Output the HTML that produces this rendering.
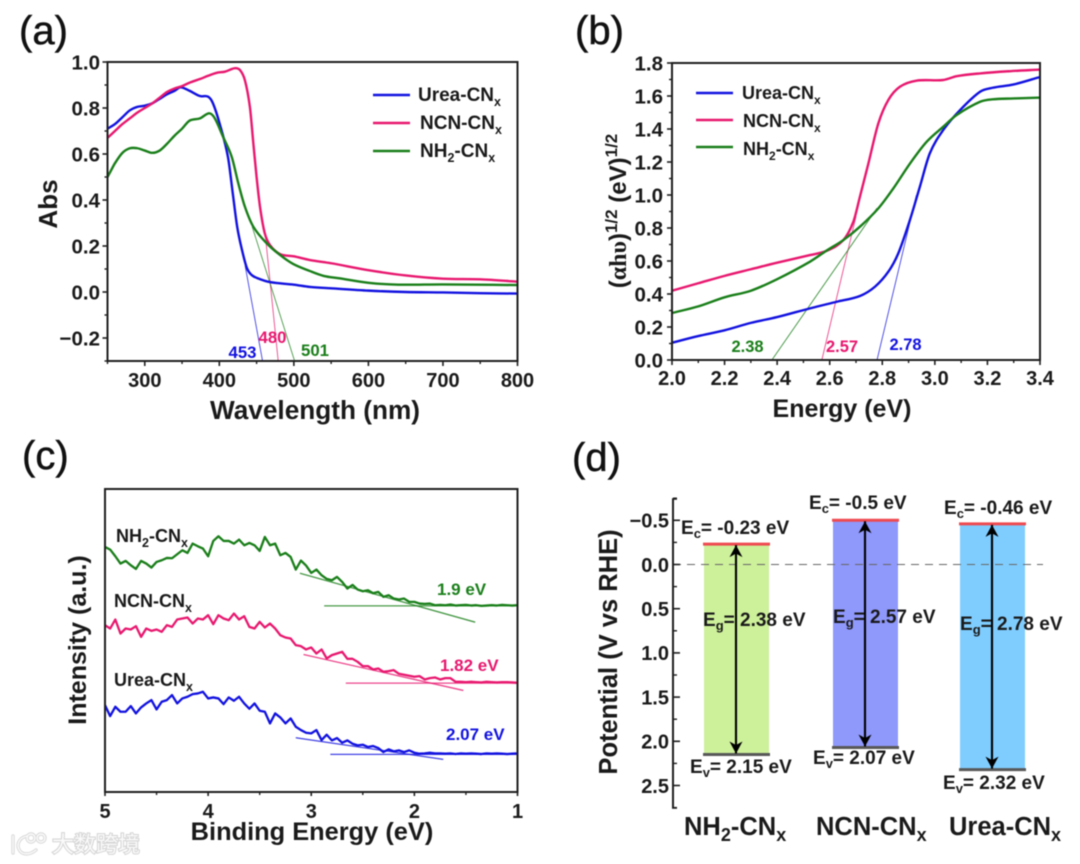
<!DOCTYPE html>
<html lang="en">
<head>
<meta charset="utf-8">
<title>Optical and band structure characterisation of CNx samples</title>
<style>
  html, body { margin: 0; padding: 0; background: #fff; }
  body { width: 1080px; height: 864px; overflow: hidden; }
  svg { display: block; font-family: "Liberation Sans", "Noto Sans CJK SC", sans-serif; filter: blur(0.45px); }
  .b { font-weight: bold; fill: #1a1a1a; }
  .panel { font-size: 40px; fill: #111; stroke: #111; stroke-width: 0.5px; }
</style>
</head>
<body>
<svg id="figure" width="1080" height="864" viewBox="0 0 1080 864" xmlns="http://www.w3.org/2000/svg">
  <rect width="1080" height="864" fill="#fff"/>

  <g id="plot-a"></g>
  <g id="plot-b"></g>
  <g id="plot-c"></g>
  <g id="plot-d"></g>

  <!-- Panel letters -->
  <text class="panel" x="19" y="44">(a)</text>
  <text class="panel" x="575" y="44">(b)</text>
  <text class="panel" x="22" y="469">(c)</text>
  <text class="panel" x="572" y="471">(d)</text>

  <!-- Panel a text -->
  <text class="b" x="315" y="419" font-size="26.2" text-anchor="middle">Wavelength (nm)</text>
  <text class="b" transform="translate(57 204) rotate(-90)" font-size="26" text-anchor="middle">Abs</text>
  <g>
    <line x1="373" x2="410" y1="95" y2="95" stroke="#1212e0" stroke-width="2.4"/>
    <line x1="373" x2="410" y1="123" y2="123" stroke="#e8186f" stroke-width="2.4"/>
    <line x1="373" x2="410" y1="151" y2="151" stroke="#1a7f1a" stroke-width="2.4"/>
    <text class="b" x="418" y="101" font-size="19">Urea-CN<tspan dy="5" font-size="12.5">x</tspan></text>
    <text class="b" x="420" y="129" font-size="19">NCN-CN<tspan dy="5" font-size="12.5">x</tspan></text>
    <text class="b" x="420" y="157" font-size="19">NH<tspan dy="5" font-size="12.5">2</tspan><tspan dy="-5">-CN</tspan><tspan dy="5" font-size="12.5">x</tspan></text>
  </g>
  <text x="242.5" y="358" font-size="16.8" font-weight="bold" text-anchor="middle" fill="#1212e0">453</text>
  <text x="272.5" y="343" font-size="16.8" font-weight="bold" text-anchor="middle" fill="#e8186f">480</text>
  <text x="315" y="356" font-size="16.8" font-weight="bold" text-anchor="middle" fill="#1a7f1a">501</text>

  <!-- Panel b text -->
  <text class="b" x="842" y="417" font-size="25" text-anchor="middle">Energy (eV)</text>
  <text class="b" transform="translate(626 211) rotate(-90)" font-size="24" text-anchor="middle">(<tspan font-family="'Liberation Serif', serif">αhυ</tspan>)<tspan dy="-9" font-size="17">1/2</tspan><tspan dy="9"> (eV)</tspan><tspan dy="-9" font-size="17">1/2</tspan></text>
  <g>
    <line x1="696" x2="733" y1="93" y2="93" stroke="#1212e0" stroke-width="2.4"/>
    <line x1="696" x2="733" y1="120" y2="120" stroke="#e8186f" stroke-width="2.4"/>
    <line x1="696" x2="733" y1="147" y2="147" stroke="#1a7f1a" stroke-width="2.4"/>
    <text class="b" x="742" y="99" font-size="18">Urea-CN<tspan dy="5" font-size="12">x</tspan></text>
    <text class="b" x="743" y="127" font-size="18">NCN-CN<tspan dy="5" font-size="12">x</tspan></text>
    <text class="b" x="743" y="155" font-size="18">NH<tspan dy="5" font-size="12">2</tspan><tspan dy="-5">-CN</tspan><tspan dy="5" font-size="12">x</tspan></text>
  </g>
  <text x="747.5" y="352" font-size="16.5" font-weight="bold" text-anchor="middle" fill="#1a7f1a">2.38</text>
  <text x="842" y="352" font-size="16.5" font-weight="bold" text-anchor="middle" fill="#e8186f">2.57</text>
  <text x="905.5" y="350" font-size="16.5" font-weight="bold" text-anchor="middle" fill="#1212e0">2.78</text>

  <!-- Panel c text -->
  <text class="b" x="312" y="840" font-size="25.4" text-anchor="middle">Binding Energy (eV)</text>
  <text class="b" transform="translate(86 640) rotate(-90)" font-size="25" text-anchor="middle">Intensity (a.u.)</text>
  <text class="b" x="116" y="542" font-size="18">NH<tspan dy="5" font-size="12.5">2</tspan><tspan dy="-5">-CN</tspan><tspan dy="5" font-size="12.5">x</tspan></text>
  <text class="b" x="114" y="607" font-size="18">NCN-CN<tspan dy="5" font-size="12.5">x</tspan></text>
  <text class="b" x="114" y="686" font-size="18">Urea-CN<tspan dy="5" font-size="12.5">x</tspan></text>
  <text x="437" y="595" font-size="17" font-weight="bold" fill="#1a7f1a">1.9 eV</text>
  <text x="440" y="671" font-size="17" font-weight="bold" fill="#e8186f">1.82 eV</text>
  <text x="446" y="740" font-size="17" font-weight="bold" fill="#1212e0">2.07 eV</text>

  <!-- Watermark -->
  <g>
    <g fill="none" stroke="#d9d9d9" stroke-width="3.4" stroke-linecap="round">
      <path d="M13 836V853"/>
      <path d="M27 836C18 838 16 846 20 851C23 855 30 855 36 850"/>
      <circle cx="31" cy="838" r="4"/>
      <circle cx="41" cy="838" r="4"/>
    </g>
    <g fill="none" stroke="#fbfbfb" stroke-width="1.4" stroke-linecap="round">
      <path d="M13 836V853"/>
      <path d="M27 836C18 838 16 846 20 851C23 855 30 855 36 850"/>
      <circle cx="31" cy="838" r="4"/>
      <circle cx="41" cy="838" r="4"/>
    </g>
    <text x="52" y="852" font-size="22" font-family="'Noto Sans CJK SC', sans-serif" fill="#fafafa" stroke="#d4d4d4" stroke-width="2" paint-order="stroke">大数跨境</text>
  </g>

  <!-- Panel d text -->
  <text class="b" transform="translate(617 652) rotate(-90)" font-size="25.5" text-anchor="middle">Potential (V vs RHE)</text>
  <text class="b" x="684" y="835" font-size="25.5">NH<tspan dy="6" font-size="18">2</tspan><tspan dy="-6">-CN</tspan><tspan dy="6" font-size="18">x</tspan></text>
  <text class="b" x="816" y="835" font-size="25.5">NCN-CN<tspan dy="6" font-size="18">x</tspan></text>
  <text class="b" x="949" y="835" font-size="25.5">Urea-CN<tspan dy="6" font-size="18">x</tspan></text>

  <text class="b" x="681" y="534" font-size="19">E<tspan dy="4" font-size="13">c</tspan><tspan dy="-4">= -0.23 eV</tspan></text>
  <text class="b" x="690" y="773" font-size="19">E<tspan dy="4" font-size="13">v</tspan><tspan dy="-4">= 2.15 eV</tspan></text>
  <text class="b" x="703" y="626" font-size="19">E<tspan dy="4" font-size="13">g</tspan><tspan dy="-4">= 2.38 eV</tspan></text>
  <text class="b" x="809" y="509" font-size="19">E<tspan dy="4" font-size="13">c</tspan><tspan dy="-4">= -0.5 eV</tspan></text>
  <text class="b" x="813" y="764" font-size="19">E<tspan dy="4" font-size="13">v</tspan><tspan dy="-4">= 2.07 eV</tspan></text>
  <text class="b" x="833" y="623" font-size="19">E<tspan dy="4" font-size="13">g</tspan><tspan dy="-4">= 2.57 eV</tspan></text>
  <text class="b" x="944" y="514" font-size="19">E<tspan dy="4" font-size="13">c</tspan><tspan dy="-4">= -0.46 eV</tspan></text>
  <text class="b" x="943" y="789" font-size="19">E<tspan dy="4" font-size="13">v</tspan><tspan dy="-4">= 2.32 eV</tspan></text>
  <text class="b" x="960" y="630" font-size="19">E<tspan dy="4" font-size="13">g</tspan><tspan dy="-4">= 2.78 eV</tspan></text>
</svg>

<script>
/* ---------- Panel (a) data ---------- */
const aXTicks = [300, 400, 500, 600, 700, 800];
const aXTickLabels = ['300', '400', '500', '600', '700', '800'];
const aXMinorTicks = [250, 350, 450, 550, 650, 750];
const aYTicks = [-0.2, 0, 0.2, 0.4, 0.6, 0.8, 1.0];
const aYTickLabels = ['\u22120.2', '0.0', '0.2', '0.4', '0.6', '0.8', '1.0'];
const aYMinorTicks = [-0.3, -0.1, 0.1, 0.3, 0.5, 0.7, 0.9];

const aUreaNm = [250,260,270,280,290,300,310,320,330,340,348,360,374,385,391.5,401,411.6,418,424,430.4,437,443,450.5,468,500,521.6,550,600,650,700,750,800];
const aUreaAbs = [.71,.73,.76,.79,.805,.81,.82,.84,.86,.875,.89,.875,.852,.849,.82,.726,.587,.43,.283,.183,.104,.075,.061,.043,.032,.022,.016,.006,0,-.002,-.005,-.007];
const aNcnNm = [250,260,270,280,290,300,310,320,330,340,350,360,374,385,396.5,407.6,421,427.7,434.4,441,445.6,450,454.6,461,468,481.4,500,521.6,550,600,650,700,750,800];
const aNcnAbs = [.67,.70,.73,.755,.78,.80,.82,.845,.87,.885,.895,.91,.926,.94,.953,.958,.973,.965,.92,.805,.648,.50,.37,.255,.204,.165,.155,.139,.125,.095,.072,.058,.055,.045];
const aNh2Nm = [250,255,260,270,280,290,300,310,320,330,340,350,360,374,386.5,394,405,416.6,425.5,434.4,445.6,463.5,481.4,499,521.6,540,560,600,640,700,800];
const aNh2Abs = [.50,.53,.56,.605,.625,.625,.615,.605,.615,.645,.68,.71,.745,.755,.777,.755,.675,.588,.472,.37,.284,.212,.161,.122,.091,.07,.06,.04,.032,.033,.03];

const aUreaTangentNm = [434.6, 458];
const aUreaTangentAbs = [.115, -.3];
const aNcnTangentNm = [461, 479];
const aNcnTangentAbs = [.27, -.3];
const aNh2TangentNm = [444, 501];
const aNh2TangentAbs = [.285, -.3];

/* ---------- Panel (b) data ---------- */
const bXTicks = [2.0, 2.2, 2.4, 2.6, 2.8, 3.0, 3.2, 3.4];
const bXTickLabels = ['2.0', '2.2', '2.4', '2.6', '2.8', '3.0', '3.2', '3.4'];
const bXMinorTicks = [2.1, 2.3, 2.5, 2.7, 2.9, 3.1, 3.3];
const bYTicks = [0, 0.2, 0.4, 0.6, 0.8, 1.0, 1.2, 1.4, 1.6, 1.8];
const bYTickLabels = ['0.0', '0.2', '0.4', '0.6', '0.8', '1.0', '1.2', '1.4', '1.6', '1.8'];
const bYMinorTicks = [0.1, 0.3, 0.5, 0.7, 0.9, 1.1, 1.3, 1.5, 1.7];

const bUreaEv = [2.0,2.1,2.2,2.3,2.4,2.525,2.627,2.715,2.772,2.823,2.861,2.905,2.943,2.981,3.032,3.096,3.172,3.22,3.3,3.4];
const bUreaVal = [.105,.145,.18,.225,.26,.313,.353,.388,.444,.535,.647,.848,1.05,1.253,1.394,1.515,1.626,1.65,1.67,1.715];
const bNcnEv = [2.0,2.1,2.2,2.3,2.4,2.525,2.589,2.652,2.69,2.715,2.747,2.785,2.823,2.867,2.93,3.032,3.083,3.172,3.28,3.4];
const bNcnVal = [.42,.465,.51,.55,.59,.636,.662,.727,.838,.99,1.19,1.434,1.576,1.656,1.693,1.697,1.72,1.737,1.75,1.76];
const bNh2Ev = [2.0,2.1,2.2,2.3,2.4,2.525,2.589,2.652,2.715,2.785,2.842,2.905,2.969,3.032,3.083,3.172,3.22,3.3,3.4];
const bNh2Val = [.285,.325,.38,.42,.49,.596,.664,.727,.808,.919,1.04,1.19,1.323,1.414,1.485,1.565,1.58,1.585,1.59];

const bUreaTangentEv = [2.78, 2.93];
const bUreaTangentVal = [0, 1.0];
const bNcnTangentEv = [2.57, 2.7];
const bNcnTangentVal = [0, .87];
const bNh2TangentEv = [2.38, 2.78];
const bNh2TangentVal = [0, .92];

/* ---------- Panel (c) data ---------- */
const cXTicks = [5, 4, 3, 2, 1];
const cXTickLabels = ['5', '4', '3', '2', '1'];
const cXMinorTicks = [4.5, 3.5, 2.5, 1.5];
const cEnergy = [5.00,4.95,4.90,4.85,4.80,4.75,4.70,4.65,4.60,4.55,4.50,4.45,4.40,4.35,4.30,4.25,4.20,4.15,4.10,4.05,4.00,3.95,3.90,3.85,3.80,3.75,3.70,3.65,3.60,3.55,3.50,3.45,3.40,3.35,3.30,3.25,3.20,3.15,3.10,3.05,3.00,2.95,2.90,2.85,2.80,2.75,2.70,2.65,2.60,2.55,2.50,2.45,2.40,2.35,2.30,2.25,2.20,2.15,2.10,2.05,2.00,1.95,1.90,1.85,1.80,1.75,1.70,1.65,1.60,1.55,1.50,1.45,1.40,1.35,1.30,1.25,1.20,1.15,1.10,1.05,1.00];
const cNh2Counts = [736,728,708,686,694,681,670,694,686,674,691,696,703,702,714,726,718,746,738,731,708,754,768,754,754,746,758,741,748,741,724,766,741,746,711,718,706,668,695,680,658,668,651,640,636,646,631,611,622,608,603,606,597,601,586,591,581,578,581,571,571,566,565,566,561,562,561,563,560,561,562,560,561,559,560,561,560,562,561,560,561];
const cNcnCounts = [501,491,518,476,491,488,498,466,491,484,488,481,501,496,518,521,524,506,521,518,531,504,531,521,516,536,518,528,496,491,511,494,506,491,471,464,461,441,438,428,434,416,428,401,411,416,421,400,400,391,378,378,368,371,361,363,366,355,352,349,346,348,338,342,344,338,342,342,331,331,330,331,330,329,331,330,329,330,330,329,328];
const cUreaCounts = [261,228,256,241,241,258,236,254,266,276,248,271,276,291,266,281,286,294,296,301,281,284,281,264,284,274,286,266,250,266,244,241,206,236,224,206,221,196,186,178,176,186,156,172,155,162,148,155,145,140,142,135,138,132,120,128,122,125,120,125,118,115,116,118,116,116,115,116,114,116,115,116,115,114,116,115,116,115,114,115,116];

const cNh2SlopeEv = [3.11, 1.41];
const cNh2SlopeCounts = [657, 510];
const cNh2BaseEv = [2.875, 1.0];
const cNh2BaseCounts = [559, 559];
const cNcnSlopeEv = [3.075, 1.525];
const cNcnSlopeCounts = [413, 305];
const cNcnBaseEv = [2.665, 1.0];
const cNcnBaseCounts = [327, 327];
const cUreaSlopeEv = [3.15, 1.72];
const cUreaSlopeCounts = [163, 98];
const cUreaBaseEv = [2.815, 1.0];
const cUreaBaseCounts = [113, 113];

/* ---------- Panel (d) data ---------- */
const dCategories = ['nh2', 'ncn', 'urea'];
const dConduction = [-0.23, -0.5, -0.46];
const dValence = [2.15, 2.07, 2.32];
const dYTicks = [-0.5, 0, 0.5, 1.0, 1.5, 2.0, 2.5];
const dYTickLabels = ['\u22120.5', '0.0', '0.5', '1.0', '1.5', '2.0', '2.5'];
const dYMinorTicks = [-0.75, -0.25, 0.25, 0.75, 1.25, 1.75, 2.25, 2.75];

/* ---------- Helpers ---------- */
const NS = 'http://www.w3.org/2000/svg';
const BLUE = '#1212e0', PINK = '#e8186f', GREEN = '#1a7f1a', INK = '#1f1f1f';

function linear(d0, d1, r0, r1) {
  return function (v) { return r0 + (v - d0) / (d1 - d0) * (r1 - r0); };
}

function add(parent, tag, name, props) {
  const el = document.createElementNS(NS, tag);
  
  
  for (const k in props) { el.setAttribute(k, props[k]); }
  parent.appendChild(el);
  return el;
}

function addLabel(parent, name, x, y, str, size, anchor) {
  const t = add(parent, 'text', name, { x: x, y: y, 'font-size': size, 'font-weight': 'bold', 'text-anchor': anchor, fill: '#1a1a1a' });
  t.textContent = str;
  return t;
}

function xTicks(g, xs, y, ticks, labels, minors, opts) {
  ticks.forEach(function (v, i) {
    add(g, 'line', 'x-tick', { x1: xs(v), x2: xs(v), y1: y, y2: y + opts.major, stroke: INK, 'stroke-width': 1.6 });
    addLabel(g, 'x-tick-label', xs(v), opts.labelY, labels[i], opts.size, 'middle');
  });
  minors.forEach(function (v) {
    add(g, 'line', 'x-minor-tick', { x1: xs(v), x2: xs(v), y1: y, y2: y + opts.minor, stroke: INK, 'stroke-width': 1.4 });
  });
}

function yTicks(g, ys, x, ticks, labels, minors, opts) {
  const sign = opts.inward ? 1 : -1;
  ticks.forEach(function (v, i) {
    add(g, 'line', 'y-tick', { x1: x, x2: x + sign * opts.major, y1: ys(v), y2: ys(v), stroke: INK, 'stroke-width': 1.6 });
    addLabel(g, 'y-tick-label', opts.labelX, ys(v) + 7.3, labels[i], opts.size, 'end');
  });
  minors.forEach(function (v) {
    add(g, 'line', 'y-minor-tick', { x1: x, x2: x + sign * opts.minor, y1: ys(v), y2: ys(v), stroke: INK, 'stroke-width': 1.4 });
  });
}

function frame(g, l, t, r, b) {
  add(g, 'rect', 'plot-frame', { x: l, y: t, width: r - l, height: b - t, fill: 'none', stroke: INK, 'stroke-width': 2 });
}

function smoothPath(xv, yv, xs, ys) {
  const px = xv.map(xs), py = yv.map(ys), n = px.length, m = [];
  for (let i = 0; i < n; i++) {
    const a = Math.max(0, i - 1), b = Math.min(n - 1, i + 1);
    m.push((py[b] - py[a]) / (px[b] - px[a]));
  }
  let d = 'M' + px[0].toFixed(2) + ' ' + py[0].toFixed(2);
  for (let i = 0; i < n - 1; i++) {
    const h = (px[i + 1] - px[i]) / 3;
    d += 'C' + (px[i] + h).toFixed(2) + ' ' + (py[i] + m[i] * h).toFixed(2) + ' ' +
         (px[i + 1] - h).toFixed(2) + ' ' + (py[i + 1] - m[i + 1] * h).toFixed(2) + ' ' +
         px[i + 1].toFixed(2) + ' ' + py[i + 1].toFixed(2);
  }
  return d;
}

function straightPath(xv, yv, xs, ys) {
  return xv.map(function (v, i) { return (i ? 'L' : 'M') + xs(v).toFixed(2) + ' ' + ys(yv[i]).toFixed(2); }).join('');
}

function series(g, name, d, color, width) {
  add(g, 'path', name, { d: d, fill: 'none', stroke: color, 'stroke-width': width, 'stroke-linejoin': 'round', 'stroke-linecap': 'butt' });
}

function guide(g, name, xv, yv, xs, ys, color, width) {
  add(g, 'line', name, { x1: xs(xv[0]), y1: ys(yv[0]), x2: xs(xv[1]), y2: ys(yv[1]), stroke: color, 'stroke-width': width, 'stroke-opacity': 0.8 });
}

/* ---------- Panel (a) ---------- */
(function () {
  const g = document.getElementById('plot-a');
  const xs = linear(250, 800, 107.5, 517.5);
  const ys = linear(-0.3, 1.0, 361, 62);
  guide(g, 'tangent-urea-a', aUreaTangentNm, aUreaTangentAbs, xs, ys, BLUE, 0.9);
  guide(g, 'tangent-ncn-a', aNcnTangentNm, aNcnTangentAbs, xs, ys, PINK, 0.9);
  guide(g, 'tangent-nh2-a', aNh2TangentNm, aNh2TangentAbs, xs, ys, GREEN, 0.9);
  series(g, 'series-urea-a', smoothPath(aUreaNm, aUreaAbs, xs, ys), BLUE, 2.4);
  series(g, 'series-ncn-a', smoothPath(aNcnNm, aNcnAbs, xs, ys), PINK, 2.4);
  series(g, 'series-nh2-a', smoothPath(aNh2Nm, aNh2Abs, xs, ys), GREEN, 2.4);
  frame(g, 107.5, 62, 517.5, 361);
  xTicks(g, xs, 361, aXTicks, aXTickLabels, aXMinorTicks, { major: 5, minor: 3, labelY: 387, size: 20 });
  yTicks(g, ys, 107.5, aYTicks, aYTickLabels, aYMinorTicks, { major: 5, minor: 3, labelX: 100, size: 20.5 });
})();

/* ---------- Panel (b) ---------- */
(function () {
  const g = document.getElementById('plot-b');
  const xs = linear(2.0, 3.4, 672, 1040);
  const ys = linear(0, 1.8, 360, 63);
  guide(g, 'tangent-urea-b', bUreaTangentEv, bUreaTangentVal, xs, ys, BLUE, 0.9);
  guide(g, 'tangent-ncn-b', bNcnTangentEv, bNcnTangentVal, xs, ys, PINK, 0.9);
  guide(g, 'tangent-nh2-b', bNh2TangentEv, bNh2TangentVal, xs, ys, GREEN, 1);
  series(g, 'series-urea-b', smoothPath(bUreaEv, bUreaVal, xs, ys), BLUE, 2.4);
  series(g, 'series-ncn-b', smoothPath(bNcnEv, bNcnVal, xs, ys), PINK, 2.4);
  series(g, 'series-nh2-b', smoothPath(bNh2Ev, bNh2Val, xs, ys), GREEN, 2.4);
  frame(g, 672, 63, 1040, 360);
  xTicks(g, xs, 360, bXTicks, bXTickLabels, bXMinorTicks, { major: 5, minor: 3, labelY: 385, size: 20 });
  yTicks(g, ys, 672, bYTicks, bYTickLabels, bYMinorTicks, { major: 5, minor: 3, labelX: 663, size: 20.5 });
})();

/* ---------- Panel (c) ---------- */
(function () {
  const g = document.getElementById('plot-c');
  const xs = linear(5, 1, 105, 517.5);
  const ys = linear(0, 910, 792, 489);
  guide(g, 'slope-fit-nh2', cNh2SlopeEv, cNh2SlopeCounts, xs, ys, GREEN, 1.3);
  guide(g, 'baseline-fit-nh2', cNh2BaseEv, cNh2BaseCounts, xs, ys, GREEN, 1.3);
  guide(g, 'slope-fit-ncn', cNcnSlopeEv, cNcnSlopeCounts, xs, ys, PINK, 1.3);
  guide(g, 'baseline-fit-ncn', cNcnBaseEv, cNcnBaseCounts, xs, ys, PINK, 1.3);
  guide(g, 'slope-fit-urea', cUreaSlopeEv, cUreaSlopeCounts, xs, ys, BLUE, 1.3);
  guide(g, 'baseline-fit-urea', cUreaBaseEv, cUreaBaseCounts, xs, ys, BLUE, 1.3);
  series(g, 'series-nh2-c', straightPath(cEnergy, cNh2Counts, xs, ys), GREEN, 2.3);
  series(g, 'series-ncn-c', straightPath(cEnergy, cNcnCounts, xs, ys), PINK, 2.3);
  series(g, 'series-urea-c', straightPath(cEnergy, cUreaCounts, xs, ys), BLUE, 2.3);
  frame(g, 105, 489, 517.5, 792);
  xTicks(g, xs, 792, cXTicks, cXTickLabels, cXMinorTicks, { major: 4, minor: 3, labelY: 818, size: 20 });
})();

/* ---------- Panel (d) ---------- */
(function () {
  const g = document.getElementById('plot-d');
  const ys = linear(0, 2.5, 564.5, 785.5);
  const barLeft = [704, 833, 960];
  const barWidth = 65;
  const fills = ['#cdf09a', '#8f98fb', '#7fcdff'];
  const defs = add(g, 'defs', 'arrow-defs', {});
  const marker = add(defs, 'marker', 'arrow-head', { id: 'stealth', viewBox: '0 0 12 16', refX: 12, refY: 8, markerWidth: 12, markerHeight: 16, orient: 'auto-start-reverse', markerUnits: 'userSpaceOnUse' });
  add(marker, 'path', 'arrow-head-shape', { d: 'M0 1.5L12 8L0 14.5L3.5 8Z', fill: '#000' });
  dCategories.forEach(function (cat, i) {
    const top = ys(dConduction[i]), bot = ys(dValence[i]), l = barLeft[i];
    add(g, 'rect', 'band-' + cat, { x: l, y: top, width: barWidth, height: bot - top, fill: fills[i] });
  });
  add(g, 'line', 'zero-reference-line', { x1: 673, x2: 1043, y1: ys(0), y2: ys(0), stroke: '#666', 'stroke-width': 1.1, 'stroke-dasharray': '8 6' });
  dCategories.forEach(function (cat, i) {
    const top = ys(dConduction[i]), bot = ys(dValence[i]), l = barLeft[i], cx = l + barWidth / 2;
    add(g, 'line', 'conduction-level-' + cat, { x1: l - 1, x2: l + barWidth + 1, y1: top, y2: top, stroke: '#ee4a50', 'stroke-width': 3 });
    add(g, 'line', 'valence-level-' + cat, { x1: l - 1, x2: l + barWidth + 1, y1: bot, y2: bot, stroke: '#585858', 'stroke-width': 3 });
    add(g, 'line', 'bandgap-arrow-' + cat, { x1: cx - 0.5, x2: cx - 0.5, y1: top + 1, y2: bot - 1, stroke: '#000', 'stroke-width': 2.1, 'marker-start': 'url(#stealth)', 'marker-end': 'url(#stealth)' });
  });
  add(g, 'line', 'y-axis-line-d', { x1: 673, x2: 673, y1: 499, y2: 808, stroke: INK, 'stroke-width': 2 });
  add(g, 'line', 'y-axis-cap-top-d', { x1: 672, x2: 677, y1: 499, y2: 499, stroke: INK, 'stroke-width': 1.6 });
  add(g, 'line', 'y-axis-cap-bottom-d', { x1: 672, x2: 677, y1: 808, y2: 808, stroke: INK, 'stroke-width': 1.6 });
  yTicks(g, ys, 673, dYTicks, dYTickLabels, dYMinorTicks, { inward: true, major: 7, minor: 4, labelX: 669, size: 20 });
})();
</script>
</body>
</html>
